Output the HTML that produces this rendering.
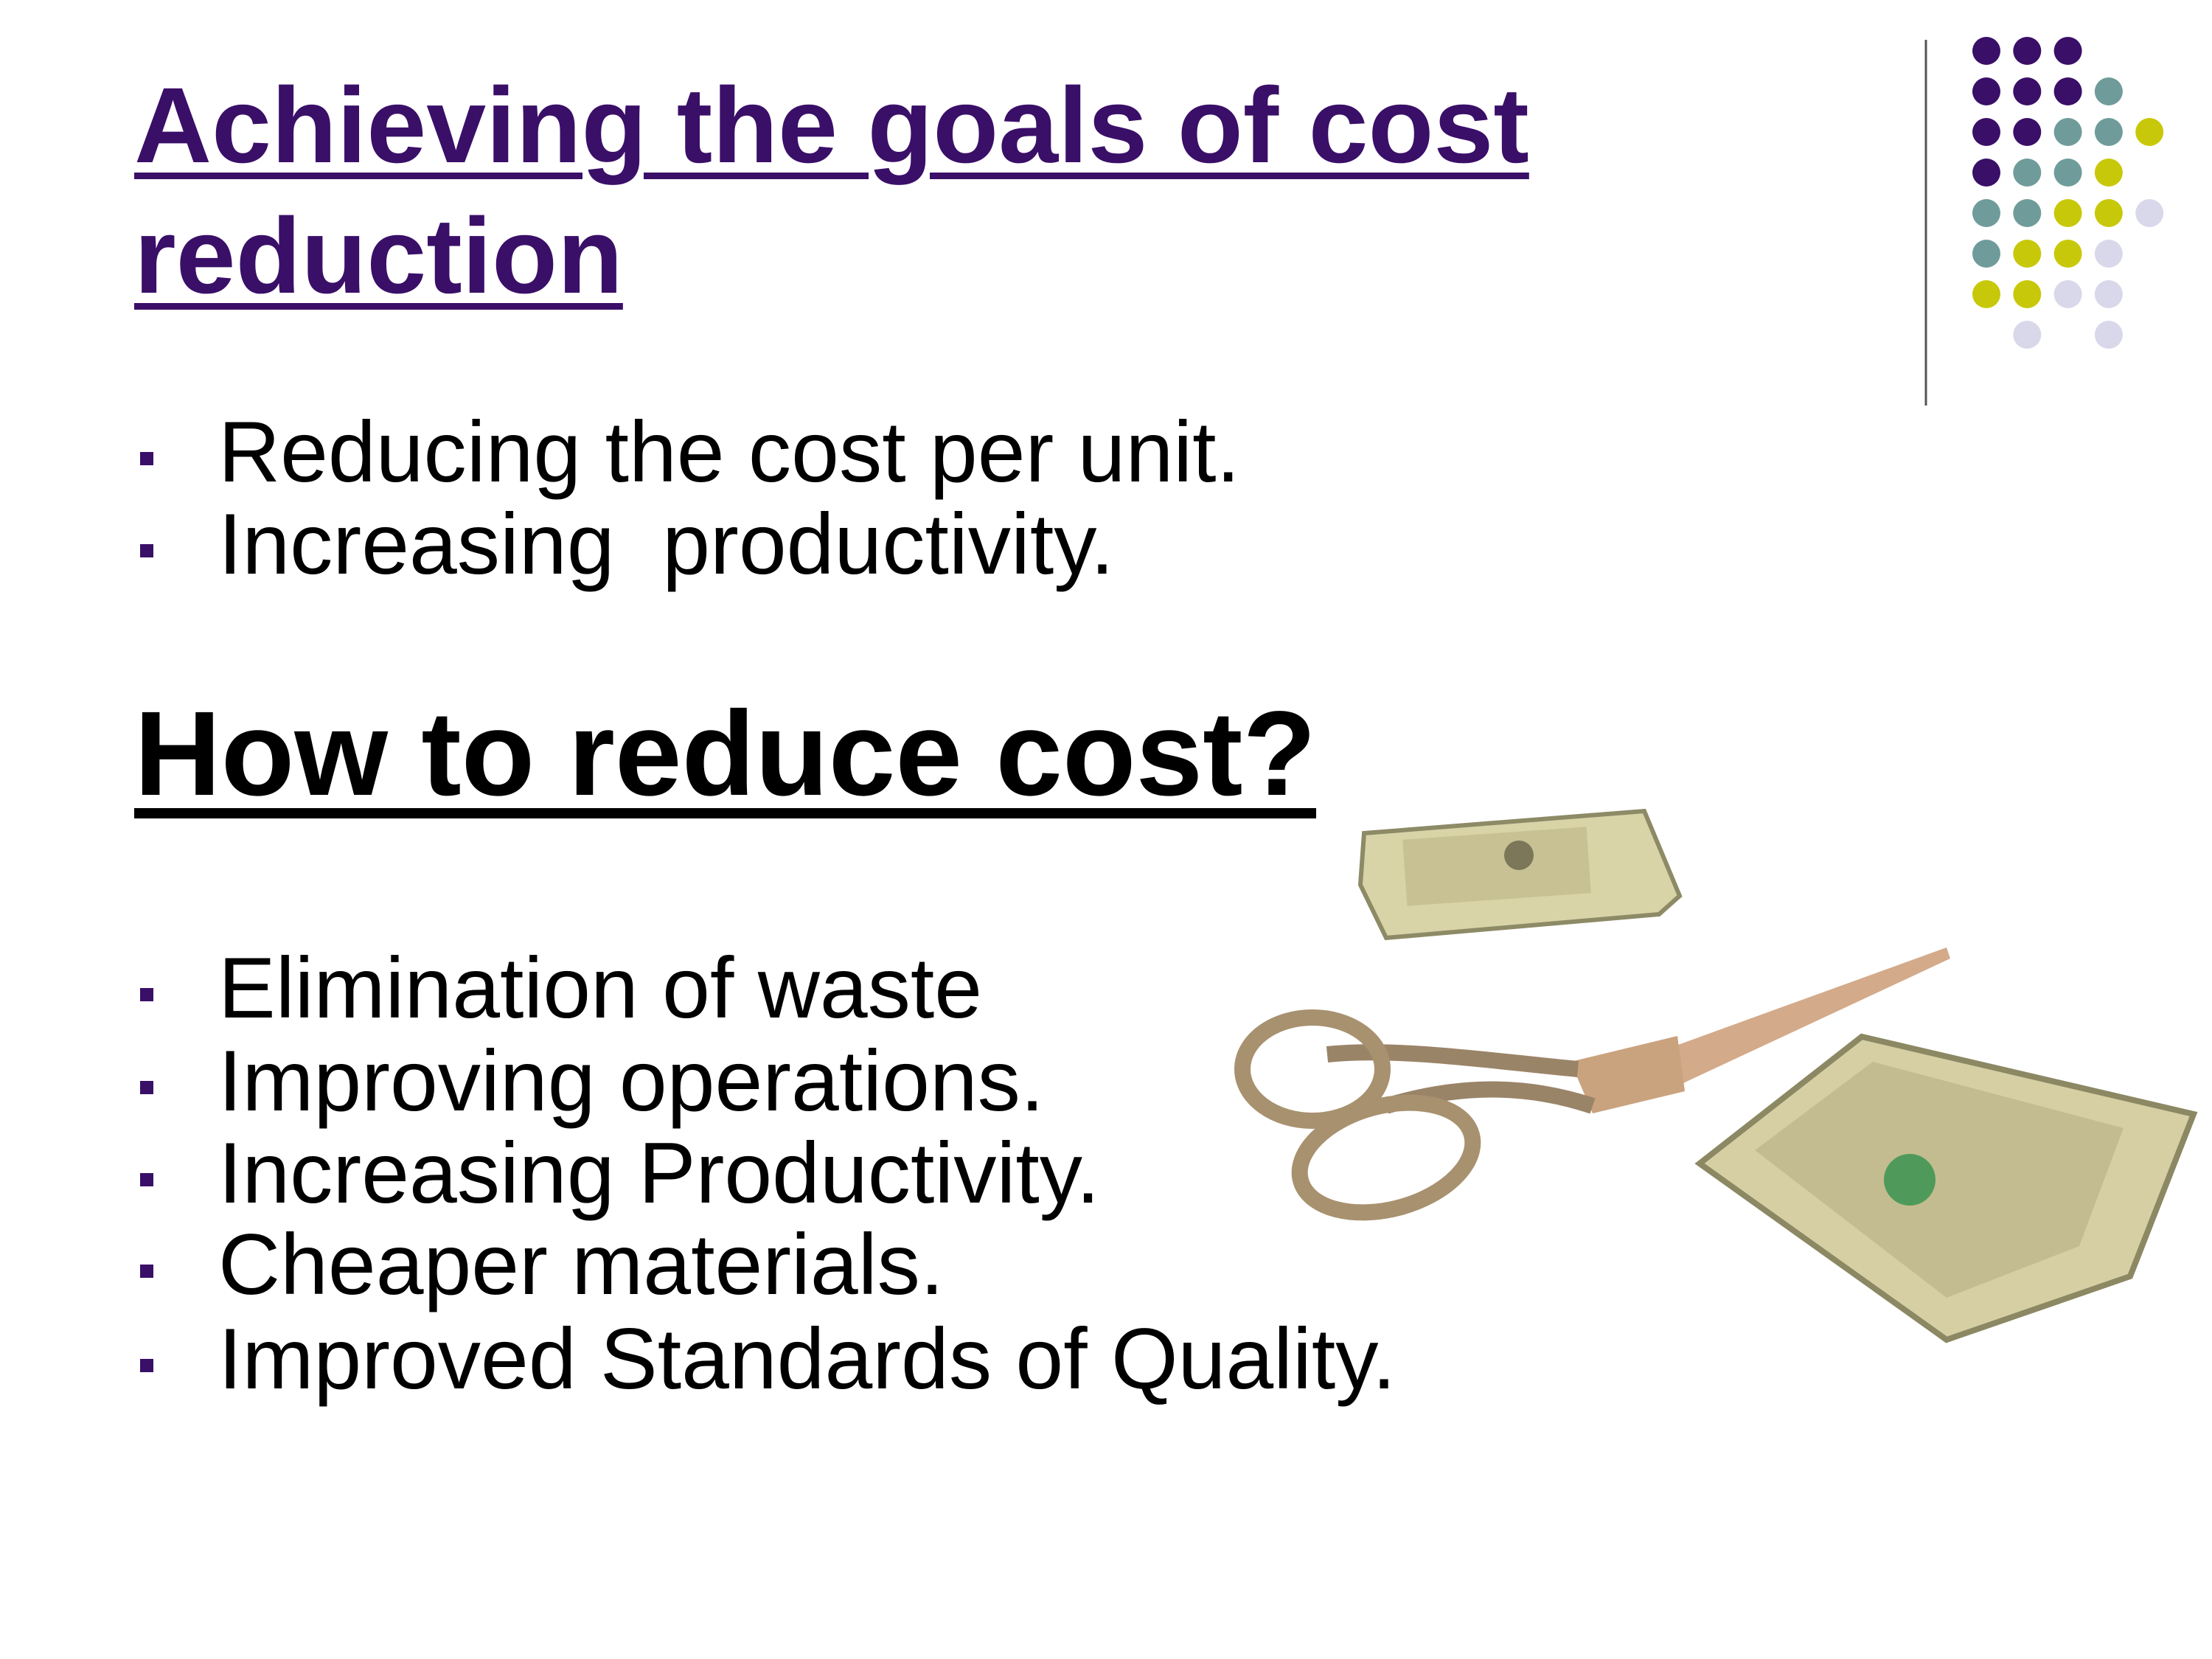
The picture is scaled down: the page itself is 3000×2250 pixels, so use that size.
<!DOCTYPE html>
<html><head><meta charset="utf-8"><style>
html,body{margin:0;padding:0;background:#fff}
#slide{position:relative;width:3000px;height:2250px;overflow:hidden;background:#fff;font-family:"Liberation Sans",sans-serif}
.t{position:absolute;white-space:nowrap}
.title{color:#3a0f68;font-weight:bold;font-size:145.5px;text-decoration:underline;text-decoration-thickness:9px;text-underline-offset:14px;left:182px}
.item{font-size:116.5px;color:#000;left:296px}
.bul{position:absolute;width:18px;height:18px;background:#3a0f68;left:190px}
</style></head><body>
<div id="slide">
<div class="t title" style="top:86px">Achieving the goals of cost</div>
<div class="t title" style="top:263px">reduction</div>

<div class="bul" style="top:613px"></div>
<div class="t item" style="top:546px">Reducing the cost per unit.</div>
<div class="bul" style="top:738px"></div>
<div class="t item" style="top:671px">Increasing&nbsp; productivity.</div>

<div class="t" style="left:182px;top:928px;font-size:163px;font-weight:bold;text-decoration:underline;text-decoration-thickness:14px;text-underline-offset:18px">How to reduce cost?</div>

<div class="bul" style="top:1340px"></div>
<div class="t item" style="top:1273px">Elimination of waste</div>
<div class="bul" style="top:1466px"></div>
<div class="t item" style="top:1399px">Improving operations.</div>
<div class="bul" style="top:1591px"></div>
<div class="t item" style="top:1524px">Increasing Productivity.</div>
<div class="bul" style="top:1715px"></div>
<div class="t item" style="top:1648px">Cheaper materials.</div>
<div class="bul" style="top:1843px"></div>
<div class="t item" style="top:1776px">Improved Standards of Quality.</div>

<svg width="3000" height="2250" style="position:absolute;left:0;top:0">
<line x1="2612" y1="54" x2="2612" y2="550" stroke="#555" stroke-width="3"/>
<g id="dots"></g>
<g>
<polygon points="1850,1130 2230,1100 2278,1215 2250,1240 1880,1272 1845,1200" fill="#d9d3a8" stroke="#8d8a66" stroke-width="6"/>
<rect x="1905" y="1130" width="250" height="90" fill="#c8c194" transform="rotate(-4 2030 1175)"/>
<circle cx="2060" cy="1160" r="20" fill="#7b7758"/>
<polygon points="2305,1578 2525,1406 2975,1511 2889,1731 2640,1817" fill="#d6cfa4" stroke="#8b8863" stroke-width="8"/>
<polygon points="2380,1560 2540,1440 2880,1530 2820,1690 2640,1760" fill="#c3bc90"/>
<circle cx="2590" cy="1600" r="35" fill="#4f9a5a"/>
<polygon points="2240,1430 2640,1285 2645,1300 2270,1475 2220,1470" fill="#d3aa8a"/>
<polygon points="2130,1440 2275,1405 2285,1480 2160,1510" fill="#c9a27e"/>
<path d="M1800,1430 C1900,1420 2030,1440 2140,1450" stroke="#9a8468" stroke-width="22" fill="none"/>
<path d="M1880,1500 C1980,1470 2070,1470 2160,1500" stroke="#9a8468" stroke-width="22" fill="none"/>
<ellipse cx="1780" cy="1450" rx="95" ry="70" fill="none" stroke="#a8916f" stroke-width="22"/>
<ellipse cx="1880" cy="1570" rx="120" ry="70" fill="none" stroke="#a8916f" stroke-width="22" transform="rotate(-15 1880 1570)"/>
</g>
</svg>
</div>
<script>
const dotColors = {P:'#3a0f68',T:'#6f9c9a',Y:'#c8c80a',L:'#d8d8ea'};
const dotRows = ['PPP..','PPPT.','PPTTY','PTTY.','TTYYL','TYYL.','YYLL.','.L.L.'];
const g = document.getElementById('dots');
dotRows.forEach((row, r) => {
  [...row].forEach((c, k) => {
    if (c === '.') return;
    const el = document.createElementNS('http://www.w3.org/2000/svg','circle');
    el.setAttribute('cx', 2694 + k * 55.3);
    el.setAttribute('cy', 69 + r * 55);
    el.setAttribute('r', 19);
    el.setAttribute('fill', dotColors[c]);
    
    
    g.appendChild(el);
  });
});
</script>
</body></html>
